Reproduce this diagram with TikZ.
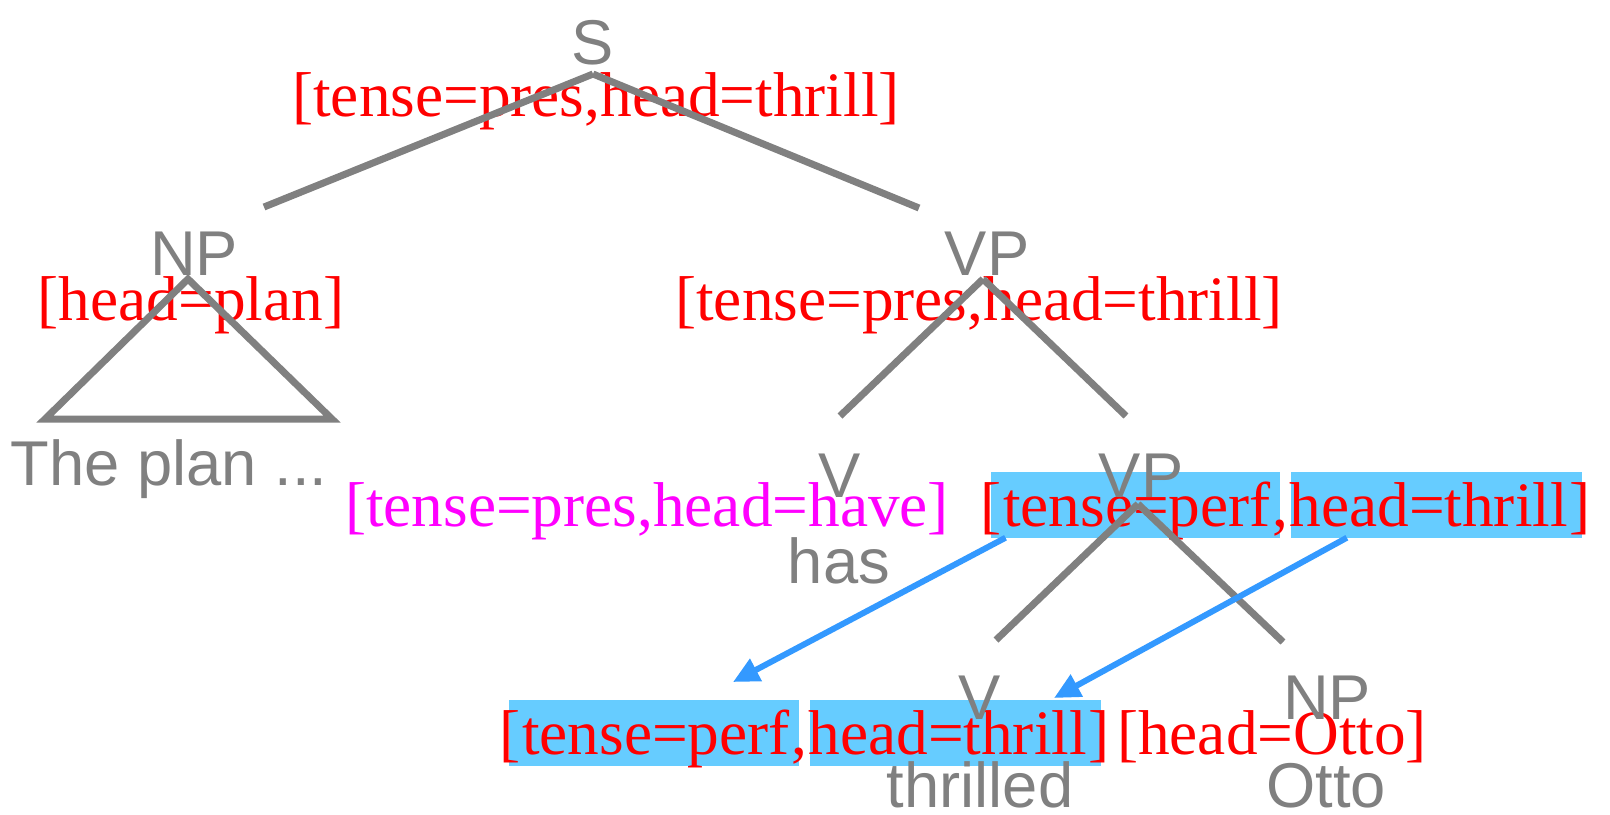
\documentclass[tikz,border=0pt]{standalone}
\usepackage{fontspec}
\setmainfont{Liberation Serif}
\setsansfont{Liberation Sans}
\usetikzlibrary{positioning, arrows.meta, backgrounds}
\definecolor{treegray}{HTML}{808080}
\definecolor{featred}{HTML}{FF0000}
\definecolor{featmag}{HTML}{FF00FF}
\definecolor{hilite}{HTML}{66CCFF}
\definecolor{linkblue}{HTML}{3399FF}

\begin{document}
\begin{tikzpicture}[x=0.01cm, y=-0.01cm]
	\tikzset{
		cat/.style={text=treegray, font=\sffamily\fontsize{18}{20}\selectfont, inner sep=0pt, anchor=base},
		feat/.style={text=featred, font=\fontsize{18}{20}\selectfont, inner sep=0pt, anchor=base},
		hl/.style={feat, anchor=base west, text height=0.53cm, text depth=0.11cm},
		branch/.style={draw=treegray, line width=2pt},
		link/.style={draw=linkblue, line width=1.7pt, -{Triangle[length=0.26cm, width=0.24cm]}}
	}
	\useasboundingbox (0,0) rectangle (1610,814);

	% highlighted feature structures
	\node[feat, anchor=base west] (upL) at (980,526) {[};
	\node[hl] (upA) at (upL.base east) {tense=perf};
	\node[feat, anchor=base west] (upC) at (upA.base east) {,};
	\node[hl] (upB) at (upC.base east) {head=thrill};
	\node[feat, anchor=base west] (upR) at (upB.base east) {]};

	\node[feat, anchor=base west] (loL) at (499,754) {[};
	\node[hl] (loA) at (loL.base east) {tense=perf};
	\node[feat, anchor=base west] (loC) at (loA.base east) {,};
	\node[hl] (loB) at (loC.base east) {head=thrill};
	\node[feat, anchor=base west] (loR) at (loB.base east) {]};

	\begin{scope}[on background layer]
		\foreach \n in {up, lo} {
			\fill[hilite] ([xshift=-0.12cm]\n A.south west) rectangle ([xshift=0.08cm]\n A.north east);
			\fill[hilite] ([xshift=0.02cm]\n B.south west) rectangle ([xshift=0.14cm]\n B.north east);
		}
	\end{scope}

	% other features
	\node[feat] (fS) at (596,116) {[tense=pres,head=thrill]};
	\node[feat] (fNP) at (191,320) {[head=plan]};
	\node[feat] (fVP) at (979,320) {[tense=pres,head=thrill]};
	\node[feat, text=featmag] (fV) at (647,526) {[tense=pres,head=have]};
	\node[feat] (fNPb) at (1272,754) {[head=Otto]};

	% branches
	\coordinate (sTop) at (593,74);
	\coordinate (sL) at (264,207);
	\coordinate (sR) at (919,208);
	\coordinate (vpTop) at (983,279);
	\coordinate (vpL) at (840,416);
	\coordinate (vpR) at (1126,416);
	\coordinate (vpbTop) at (1138,504);
	\coordinate (vpbL) at (996,640);
	\coordinate (vpbR) at (1283,642);
	\foreach \a/\b in {sTop/sL, sTop/sR, vpTop/vpL, vpTop/vpR, vpbTop/vpbL, vpbTop/vpbR}
		\draw[branch] (\a) -- (\b);
	\coordinate (npTop) at (188,279);
	\coordinate (npL) at (45,419);
	\coordinate (npR) at (332,419);
	\draw[branch, line join=miter] (npTop) -- (npR) -- (npL) -- cycle;

	% categories and words
	\node[cat] (S) at (593,64) {S};
	\node[cat] (NP) at (194,275) {NP};
	\node[cat] (VP) at (987,275) {VP};
	\node[cat] (V) at (840,497) {V};
	\node[cat] (VPb) at (1141,497) {VP};
	\node[cat] (Vb) at (980,719) {V};
	\node[cat] (NPb) at (1327,719) {NP};
	\node[cat] (plan) at (169,485) {The plan ...};
	\node[cat] (has) at (839,583) {has};
	\node[cat] (thrilled) at (980,807) {thrilled};
	\node[cat] (otto) at (1326,807) {Otto};

	% percolation
	\coordinate (tipA) at (733,682);
	\coordinate (tipB) at (1054,698);
	\draw[link] ([xshift=0.03cm]upA.south west) -- (tipA);
	\draw[link] ([xshift=0.58cm]upB.south west) -- (tipB);
\end{tikzpicture}
\end{document}
